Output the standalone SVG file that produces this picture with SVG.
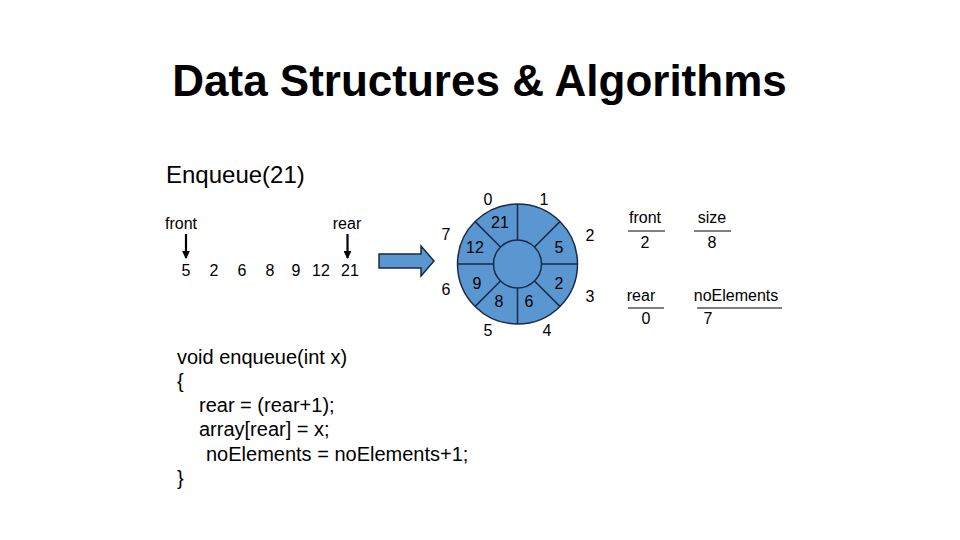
<svg xmlns="http://www.w3.org/2000/svg" width="960" height="540" viewBox="0 0 960 540">
<style>
text{font-family:"Liberation Sans",Arial,sans-serif;fill:#000}
.t16{font-size:16px}
.c{text-anchor:middle}
.code{font-size:20px}
.blue{fill:#5A96D0;stroke:#1B2A47;stroke-width:1.5}
.div{stroke:#1B2A47;stroke-width:1.5}
.ptr{stroke:#000;stroke-width:2.2;fill:none}
.ul{stroke:#000;stroke-width:1}
</style>
<defs>
<marker id="ah" viewBox="0 0 8 8" refX="7" refY="4" markerWidth="3.8" markerHeight="3.6" orient="auto" markerUnits="strokeWidth">
<path d="M0,0 L8,4 L0,8 Z" fill="#000"/>
</marker>
</defs>
<rect width="960" height="540" fill="#fff"/>
<g id="title"><text x="479.5" y="96" class="c" style="font-size:44px;font-weight:bold">Data Structures &amp; Algorithms</text></g>
<g id="subtitle"><text x="166" y="183" style="font-size:24px">Enqueue(21)</text></g>
<g id="front-label"><text x="181" y="229" class="t16 c">front</text></g>
<g id="rear-label"><text x="347" y="229" class="t16 c">rear</text></g>
<g id="array" class="t16">
<text x="186" y="276" class="c">5</text>
<text x="214" y="276" class="c">2</text>
<text x="242" y="276" class="c">6</text>
<text x="270" y="276" class="c">8</text>
<text x="296" y="276" class="c">9</text>
<text x="321" y="276" class="c">12</text>
<text x="350" y="276" class="c">21</text>
</g>
<g id="block-arrow"><path d="M379,254 H421 V246 L434,261 L421,276 V268 H379 Z" class="blue"/></g>
<g id="ring">
<circle cx="517.5" cy="264" r="60" class="blue"/>
<circle cx="517.5" cy="264" r="24" class="blue"/>
<line x1="517.5" y1="240" x2="517.5" y2="204" class="div"/>
<line x1="517.5" y1="288" x2="517.5" y2="324" class="div"/>
<line x1="493.5" y1="264" x2="457.5" y2="264" class="div"/>
<line x1="541.5" y1="264" x2="577.5" y2="264" class="div"/>
<line x1="534.5" y1="247" x2="559.9" y2="221.6" class="div"/>
<line x1="534.5" y1="281" x2="559.9" y2="306.4" class="div"/>
<line x1="500.5" y1="281" x2="475.1" y2="306.4" class="div"/>
<line x1="500.5" y1="247" x2="475.1" y2="221.6" class="div"/>
<g class="t16">
<text x="500" y="228" class="c">21</text>
<text x="475" y="253" class="c">12</text>
<text x="559" y="253" class="c">5</text>
<text x="477" y="289" class="c">9</text>
<text x="559" y="289" class="c">2</text>
<text x="499" y="307" class="c">8</text>
<text x="529" y="307" class="c">6</text>
</g>
<g class="t16">
<text x="488" y="205" class="c">0</text>
<text x="544" y="205" class="c">1</text>
<text x="590" y="241" class="c">2</text>
<text x="590" y="302" class="c">3</text>
<text x="547" y="336" class="c">4</text>
<text x="488" y="336" class="c">5</text>
<text x="446" y="295" class="c">6</text>
<text x="446" y="240" class="c">7</text>
</g>
</g>
<g id="var-front" class="t16">
<text x="645" y="223" class="c">front</text>
<line x1="628" y1="231" x2="665" y2="231" class="ul"/>
<text x="645" y="248" class="c">2</text>
</g>
<g id="var-size" class="t16">
<text x="712" y="223" class="c">size</text>
<line x1="694" y1="231" x2="731" y2="231" class="ul"/>
<text x="712" y="248" class="c">8</text>
</g>
<g id="var-rear" class="t16">
<text x="641" y="301" class="c">rear</text>
<line x1="628" y1="308" x2="664" y2="308" class="ul"/>
<text x="646" y="324" class="c">0</text>
</g>
<g id="var-noElements" class="t16">
<text x="736" y="301" class="c">noElements</text>
<line x1="697" y1="308" x2="782" y2="308" class="ul"/>
<text x="708" y="324" class="c">7</text>
</g>
<g id="code" class="code">
<text x="177" y="364">void enqueue(int x)</text>
<text x="177" y="388">{</text>
<text x="199" y="412">rear = (rear+1);</text>
<text x="199" y="436">array[rear] = x;</text>
<text x="206" y="461">noElements = noElements+1;</text>
<text x="177" y="485">}</text>
</g>
<g id="connectors">
<line x1="186" y1="234" x2="186" y2="258" class="ptr" marker-end="url(#ah)"/>
<line x1="347.5" y1="234" x2="347.5" y2="258" class="ptr" marker-end="url(#ah)"/>
</g>
</svg>
